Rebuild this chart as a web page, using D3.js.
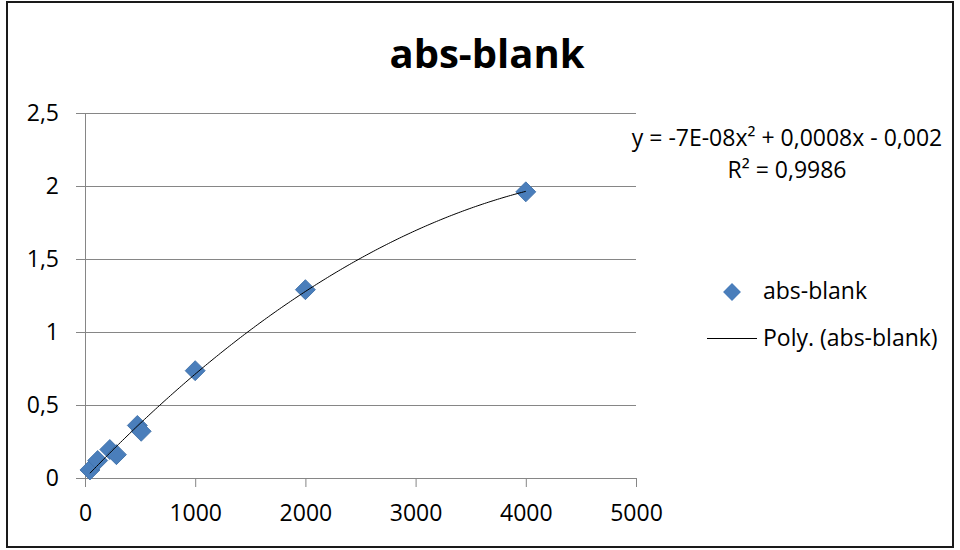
<!DOCTYPE html>
<html>
<head>
<meta charset="utf-8">
<script src="https://cdn.jsdelivr.net/npm/d3@7"></script>
<style>
  html, body { margin: 0; padding: 0; background: #fff; }
  svg { display: block; font-family: "Open Sans", "Noto Sans", sans-serif; }
</style>
</head>
<body>
<svg id="chart" width="960" height="550"></svg>
<script>
// Standard curve readings: concentration vs. blank-corrected absorbance
const concentrations = [45, 115, 225, 285, 475, 510, 1000, 2000, 4000];
const absorbance     = [0.055, 0.12, 0.195, 0.16, 0.36, 0.32, 0.735, 1.29, 1.96];

const xTickValues = [0, 1000, 2000, 3000, 4000, 5000];
const xTickLabels = ["0", "1000", "2000", "3000", "4000", "5000"];
const yTickValues = [0, 0.5, 1, 1.5, 2, 2.5];
const yTickLabels = ["0", "0,5", "1", "1,5", "2", "2,5"];

const titleText = "abs-blank";
const seriesName = "abs-blank";
const trendName = "Poly. (abs-blank)";
const equationText = "y = -7E-08x² + 0,0008x - 0,002";
const r2Text = "R² = 0,9986";

const svg = d3.select("#chart");
const gridColor = "#868686";
const markerColor = "#4a7ebb";

const x = d3.scaleLinear().domain([0, 5000]).range([85, 636]);
const y = d3.scaleLinear().domain([0, 2.5]).range([478, 113]);

// outer frame
svg.append("rect")
  .attr("x", 7).attr("y", 2).attr("width", 946).attr("height", 545)
  .attr("fill", "#fff").attr("stroke", "#1a1a1a").attr("stroke-width", 2);

// title
svg.append("text")
  .attr("x", 487).attr("y", 68)
  .attr("text-anchor", "middle")
  .attr("font-size", 40).attr("font-weight", "bold")
  .attr("fill", "#000")
  .text(titleText);

// horizontal gridlines
svg.append("g").selectAll("line")
  .data(yTickValues.filter(v => v > 0))
  .join("line")
  .attr("x1", x(0)).attr("x2", x(5000))
  .attr("y1", d => Math.round(y(d)) + 0.5).attr("y2", d => Math.round(y(d)) + 0.5)
  .attr("stroke", gridColor).attr("stroke-width", 1);

// axes
const yAxis = d3.axisLeft(y)
  .tickValues(yTickValues)
  .tickFormat((d, i) => yTickLabels[i])
  .tickSize(9).tickSizeOuter(0).tickPadding(17);
const xAxis = d3.axisBottom(x)
  .tickValues(xTickValues)
  .tickFormat((d, i) => xTickLabels[i])
  .tickSize(9).tickSizeOuter(0).tickPadding(18);

const gy = svg.append("g").attr("transform", "translate(" + x(0) + ",0)").call(yAxis);
const gx = svg.append("g").attr("transform", "translate(0," + y(0) + ")").call(xAxis);
[gx, gy].forEach(g => {
  g.select(".domain").attr("stroke", gridColor);
  g.selectAll(".tick line").attr("stroke", gridColor);
  g.selectAll(".tick text").attr("fill", "#000")
    .attr("font-size", 23).attr("font-family", "Open Sans, sans-serif");
});

// least-squares quadratic fit of the readings (x in thousands for stability)
function polyFit2(xs, ys) {
  const n = xs.length;
  const S = [0, 0, 0, 0, 0];
  const T = [0, 0, 0];
  for (let i = 0; i < n; i++) {
    const xi = xs[i] / 1000;
    let p = 1;
    for (let k = 0; k < 5; k++) { S[k] += p; if (k < 3) T[k] += p * ys[i]; p *= xi; }
  }
  const A = [
    [S[0], S[1], S[2], T[0]],
    [S[1], S[2], S[3], T[1]],
    [S[2], S[3], S[4], T[2]]
  ];
  for (let c = 0; c < 3; c++) {
    let piv = c;
    for (let r = c + 1; r < 3; r++) if (Math.abs(A[r][c]) > Math.abs(A[piv][c])) piv = r;
    [A[c], A[piv]] = [A[piv], A[c]];
    for (let r = 0; r < 3; r++) {
      if (r === c) continue;
      const f = A[r][c] / A[c][c];
      for (let k = c; k < 4; k++) A[r][k] -= f * A[c][k];
    }
  }
  const c0 = A[0][3] / A[0][0], c1 = A[1][3] / A[1][1], c2 = A[2][3] / A[2][2];
  return xv => { const t = xv / 1000; return c0 + c1 * t + c2 * t * t; };
}
const fit = polyFit2(concentrations, absorbance);
const xMin = d3.min(concentrations), xMax = d3.max(concentrations);
const trendPts = d3.range(0, 201).map(i => xMin + (xMax - xMin) * i / 200);

// data markers (square rotated into a diamond)
const diamond = d3.symbol().type(d3.symbolSquare).size(200);
svg.append("g").selectAll("path")
  .data(concentrations.map((c, i) => [c, absorbance[i]]))
  .join("path")
  .attr("d", diamond)
  .attr("transform", d => "translate(" + x(d[0]) + "," + y(d[1]) + ") rotate(45)")
  .attr("fill", markerColor)
  .attr("stroke", "#3d6fa8").attr("stroke-width", 0.8);

// trend line drawn over the markers
svg.append("path")
  .datum(trendPts)
  .attr("d", d3.line().x(d => x(d)).y(d => y(fit(d))))
  .attr("fill", "none").attr("stroke", "#000").attr("stroke-width", 1);

// trendline equation
svg.append("text")
  .attr("x", 787).attr("y", 146).attr("text-anchor", "middle")
  .attr("font-size", 23).attr("fill", "#000").text(equationText);
svg.append("text")
  .attr("x", 787).attr("y", 178).attr("text-anchor", "middle")
  .attr("font-size", 23).attr("fill", "#000").text(r2Text);

// legend
const legend = svg.append("g");
legend.append("path")
  .attr("d", d3.symbol().type(d3.symbolSquare).size(160))
  .attr("transform", "translate(732,292) rotate(45)")
  .attr("fill", markerColor);
legend.append("text")
  .attr("x", 763).attr("y", 299).attr("font-size", 23).attr("fill", "#000")
  .text(seriesName);
legend.append("line")
  .attr("x1", 707).attr("x2", 757).attr("y1", 338.5).attr("y2", 338.5)
  .attr("stroke", "#000").attr("stroke-width", 1);
legend.append("text")
  .attr("x", 763).attr("y", 346).attr("font-size", 23).attr("fill", "#000")
  .text(trendName);
</script>
</body>
</html>
